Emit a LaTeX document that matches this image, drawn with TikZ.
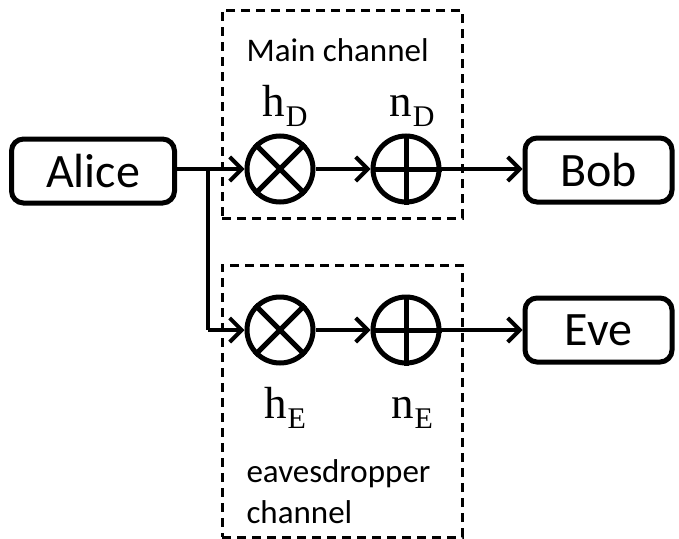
\documentclass[tikz,border=0pt]{standalone}
\usepackage[no-math]{fontspec}
\setmainfont{Carlito}
\newfontfamily\labelserif{Liberation Serif}
\usetikzlibrary{arrows.meta}
\newcommand{\chsym}[2]{#1\kern1pt\raisebox{-10pt}{\fontsize{30}{32}\selectfont #2}}
\begin{document}
\begin{tikzpicture}[x=1pt,y=-1pt,
  party/.style={draw,line width=5pt,rounded corners=12pt,minimum height=64pt,inner sep=0pt,font=\fontsize{48}{56}\selectfont},
  opcirc/.style={draw,circle,line width=5pt,minimum size=66pt,inner sep=0pt},
  conn/.style={line width=4pt,-{Straight Barb[length=12pt,width=24pt,line width=4pt]}},
  chanbox/.style={draw,dashed,line width=3pt,dash pattern=on 9pt off 6pt},
  lbl/.style={font=\fontsize{33}{40}\selectfont},
  mlbl/.style={font=\labelserif\fontsize{45}{50}\selectfont,inner sep=0pt}]
\useasboundingbox (0,0) rectangle (679,538);
% nodes
\node[party,minimum width=163pt] (alice) at (93,171) {Alice};
\node[party,minimum width=147pt] (bob) at (598.5,170) {Bob};
\node[party,minimum width=147pt] (eve) at (598.5,330) {Eve};
\node[opcirc] (m1) at (280,169) {};
\node[opcirc] (a1) at (406,169) {};
\node[opcirc] (m2) at (280,330) {};
\node[opcirc] (a2) at (406,330) {};
% symbols inside circles
\draw[line width=5pt] (m1.north west) -- (m1.south east) (m1.north east) -- (m1.south west);
\draw[line width=5pt] (m2.north west) -- (m2.south east) (m2.north east) -- (m2.south west);
\draw[line width=5pt] (a1.north) -- (a1.south) (a1.west) -- (a1.east);
\draw[line width=5pt] (a2.north) -- (a2.south) (a2.west) -- (a2.east);
% connectors
\coordinate (br) at (208,169);
\coordinate (bl) at (208,330);
\draw[line width=4pt] (alice.east |- br) -- (br);
\draw[conn] (br) -- (m1.west);
\draw[line width=4pt] (br) -- (bl);
\draw[conn] (bl) -- (m2.west);
\draw[conn] (m1.east) -- (a1.west);
\draw[conn] (m2.east) -- (a2.west);
\draw[conn] (a1.east) -- (bob.west |- a1.east);
\draw[conn] (a2.east) -- (eve.west |- a2.east);
% channel boxes
\node[chanbox,minimum width=240pt,minimum height=208pt] (mainbox) at (342,114) {};
\node[chanbox,minimum width=240pt,minimum height=272pt] (evebox) at (342,401) {};
% labels
\node[lbl,anchor=base west] (mainlbl) at (243,61) {Main channel};
\node[mlbl,anchor=base] (hD) at (285,116) {\chsym{h}{D}};
\node[mlbl,anchor=base] (nD) at (412,116) {\chsym{n}{D}};
\node[mlbl,anchor=base] (hE) at (285,418) {\chsym{h}{E}};
\node[mlbl,anchor=base] (nE) at (412,418) {\chsym{n}{E}};
\node[lbl,anchor=base west] (evelbl1) at (243,482) {eavesdropper};
\node[lbl,anchor=base west] (evelbl2) at (243,523) {channel};
\end{tikzpicture}
\end{document}
